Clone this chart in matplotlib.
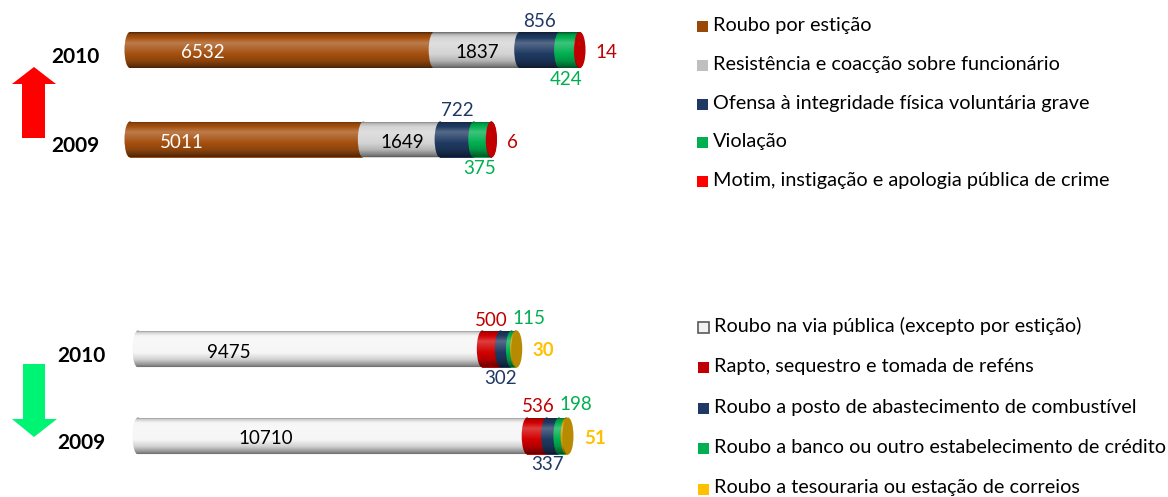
import numpy as np
import matplotlib
matplotlib.use('Agg')
import matplotlib.pyplot as plt
from matplotlib.patches import Rectangle, Ellipse, Polygon

plt.rcParams['font.family'] = ['Lato', 'DejaVu Sans']

# data
years = ['2010', '2009']

top_names = ['Roubo por estição',
             'Resistência e coacção sobre funcionário',
             'Ofensa à integridade física voluntária grave',
             'Violação',
             'Motim, instigação e apologia pública de crime']
top_2010 = [6532, 1837, 856, 424, 14]
top_2009 = [5011, 1649, 722, 375, 6]

bottom_names = ['Roubo na via pública (excepto por estição)',
                'Rapto, sequestro e tomada de reféns',
                'Roubo a posto de abastecimento de combustível',
                'Roubo a banco ou outro estabelecimento de crédito',
                'Roubo a tesouraria ou estação de correios']
bottom_2010 = [9475, 500, 302, 115, 30]
bottom_2009 = [10710, 536, 337, 198, 51]

# colours
top_bar_colors = ['#A5500F', '#D4D4D4', '#1F3A62', '#00B050', '#C80000']
top_cap = '#C00000'
top_legend_colors = ['#984807', '#BFBFBF', '#1F3864', '#00B050', '#FF0000']
top_text_colors = ['white', 'black', '#1F3864', '#00B050', '#C00000']

bottom_bar_colors = ['#F6F6F6', '#D20000', '#1F3A62', '#00B050', '#D4A000']
bottom_cap = '#B88A00'
bottom_legend_colors = ['#F2F2F2', '#C00000', '#1F3864', '#00B050', '#FFC000']
bottom_text_colors = ['black', '#C00000', '#1F3864', '#00B050', '#FFC000']

W, H = 1168, 497
fig = plt.figure(figsize=(W / 100, H / 100), dpi=100)

# vertical shading for the cylinder look
t = np.linspace(0, 1, 64)
L = np.interp(t, [0, 0.06, 0.3, 0.55, 0.8, 0.94, 1],
              [-0.5, -0.15, 0.25, 0.05, -0.15, -0.4, -0.55])
shade = np.zeros((64, 1, 4))
shade[:, 0, :3] = np.where(L > 0, 1.0, 0.0)[:, None]
shade[:, 0, 3] = np.abs(L)


def px_axes(left, top, width, height):
    return fig.add_axes([left / W, 1 - (top + height) / H, width / W, height / H])


overlay = px_axes(0, 0, W, H)
overlay.set_xlim(0, W)
overlay.set_ylim(H, 0)
overlay.axis('off')


def draw_bar(ax, y, vals, colors, cap_color, h, cap_w):
    lefts = np.concatenate([[0], np.cumsum(vals)[:-1]])
    z = 2
    for x0, v, c in zip(lefts, vals, colors):
        for p in (Ellipse((x0, y), cap_w, h), Rectangle((x0, y - h / 2), v, h)):
            p.set_facecolor(c)
            p.set_edgecolor('none')
            p.set_zorder(z)
            ax.add_patch(p)
            im = ax.imshow(shade, extent=(x0 - cap_w, x0 + v + cap_w, y + h / 2, y - h / 2),
                           aspect='auto', interpolation='bilinear', zorder=z + 0.5)
            im.set_clip_path(p)
            z += 1
    end = lefts[-1] + vals[-1]
    ax.add_patch(Ellipse((end, y), cap_w, h, facecolor=cap_color, edgecolor='none', zorder=z))
    return lefts, end


def setup_panel(origin_px, top, height, ppu, first_px, step_px):
    # axes starts 30 px left of the zero line so the rounded ends are not clipped
    ax = px_axes(origin_px - 30, top, 530, height)
    ax.set_xlim(-30 / ppu, 500 / ppu)
    ax.set_ylim((height - first_px) / step_px, -first_px / step_px)
    ax.axis('off')
    ax.set_autoscale_on(False)
    return ax


FS = 13.5
LFS = 14.3
YFS = 15

# ---- top panel ----
ppu1 = 0.04657
ax1 = setup_panel(130, 0, 200, ppu1, 50, 89.5)
h1 = 36 / 89.5
cw1 = 11 / ppu1
first_frac_top = [0.24, 0.22]
for i, vals in enumerate([top_2010, top_2009]):
    lefts, end = draw_bar(ax1, i, vals, top_bar_colors, top_cap, h1, cw1)
    mids = lefts + np.array(vals) / 2
    ax1.annotate(str(vals[0]), (vals[0] * first_frac_top[i], i), xytext=(0, -3),
                 textcoords='offset pixels', ha='center', va='center',
                 color=top_text_colors[0], fontsize=FS, zorder=50)
    ax1.annotate(str(vals[1]), (mids[1], i), xytext=(0, -3), textcoords='offset pixels',
                 ha='center', va='center', color=top_text_colors[1], fontsize=FS, zorder=50)
    ax1.annotate(str(vals[2]), (mids[2], i - h1 / 2), xytext=(0, 2), textcoords='offset pixels',
                 ha='center', va='bottom', color=top_text_colors[2], fontsize=FS, zorder=50)
    ax1.annotate(str(vals[3]), (mids[3], i + h1 / 2), xytext=(-3, -3), textcoords='offset pixels',
                 ha='center', va='top', color=top_text_colors[3], fontsize=FS, zorder=50)
    ax1.annotate(str(vals[4]), (end, i), xytext=(15, -3), textcoords='offset pixels',
                 ha='left', va='center', color=top_text_colors[4], fontsize=FS, zorder=50)
    ax1.annotate(years[i], (0, i), xytext=(-31, -7), textcoords='offset pixels',
                 ha='right', va='center', fontsize=YFS, fontweight='bold', color='black')

# ---- bottom panel ----
ppu2 = 0.03634
ax2 = setup_panel(138, 290, 207, ppu2, 59, 87)
h2 = 37 / 87
cw2 = 11 / ppu2
first_frac_bottom = [0.264, 0.329]
for i, vals in enumerate([bottom_2010, bottom_2009]):
    lefts, end = draw_bar(ax2, i, vals, bottom_bar_colors, bottom_cap, h2, cw2)
    mids = lefts + np.array(vals) / 2
    ax2.annotate(str(vals[0]), (vals[0] * first_frac_bottom[i], i), xytext=(0, -3),
                 textcoords='offset pixels', ha='center', va='center',
                 color=bottom_text_colors[0], fontsize=FS, zorder=50)
    ax2.annotate(str(vals[1]), (lefts[3], i - h2 / 2), xytext=(-4, 2), textcoords='offset pixels',
                 ha='right', va='bottom', color=bottom_text_colors[1], fontsize=FS, zorder=50)
    ax2.annotate(str(vals[3]), (lefts[3], i - h2 / 2), xytext=(1, 4), textcoords='offset pixels',
                 ha='left', va='bottom', color=bottom_text_colors[3], fontsize=FS, zorder=50)
    ax2.annotate(str(vals[2]), (mids[2], i + h2 / 2), xytext=(-5, -2), textcoords='offset pixels',
                 ha='center', va='top', color=bottom_text_colors[2], fontsize=FS, zorder=50)
    ax2.annotate(str(vals[4]), (end, i), xytext=(16, -2), textcoords='offset pixels',
                 ha='left', va='center', color=bottom_text_colors[4], fontsize=FS,
                 fontweight='bold', zorder=50)
    ax2.annotate(years[i], (0, i), xytext=(-32, -7), textcoords='offset pixels',
                 ha='right', va='center', fontsize=YFS, fontweight='bold', color='black')

# ---- legends ----
for k, (name, c) in enumerate(zip(top_names, top_legend_colors)):
    yc = 26.5 + k * 38.8
    overlay.add_patch(Rectangle((697, yc - 5.5), 11, 11, facecolor=c, edgecolor='none'))
    overlay.text(713, yc - 1, name, ha='left', va='center', fontsize=LFS)

for k, (name, c) in enumerate(zip(bottom_names, bottom_legend_colors)):
    yc = 327 + k * 40.5
    ec = '#595959' if k == 0 else 'none'
    overlay.add_patch(Rectangle((698, yc - 5.5), 11, 11, facecolor=c, edgecolor=ec, lw=1.2))
    overlay.text(714, yc - 1, name, ha='left', va='center', fontsize=LFS)

# ---- arrows ----
overlay.add_patch(Polygon([(22, 138), (22, 84), (12, 84), (34, 67), (56, 84), (45, 84), (45, 138)],
                          closed=True, facecolor='#FF0000', edgecolor='none'))
overlay.add_patch(Polygon([(23, 364), (45, 364), (45, 419), (57, 419), (34, 437), (12, 419), (23, 419)],
                          closed=True, facecolor='#00F474', edgecolor='none'))

fig.savefig('out.png', dpi=100)
